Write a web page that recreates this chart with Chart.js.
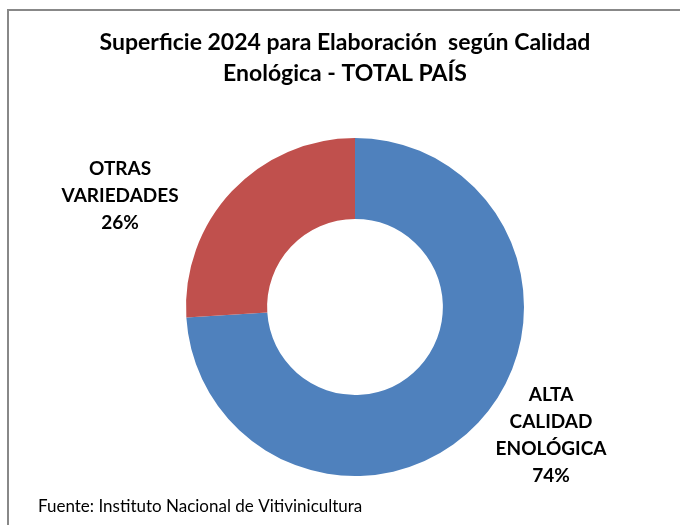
<!DOCTYPE html>
<html id="html">
<head>
<meta charset="utf-8">
<script src="https://cdn.jsdelivr.net/npm/chart.js@4.4.1/dist/chart.umd.min.js"></script>
<style>
  body { margin: 0; background: #fff; }
  #wrap { position: relative; width: 680px; height: 525px; overflow: hidden; }
  #frame { position: absolute; left: 7px; top: 9px; width: 700px; height: 540px;
           border-top: 2px solid #888; border-left: 2px solid #888; }
  canvas { position: absolute; left: 0; top: 0; }
</style>
</head>
<body>
<div id="wrap">
  <div id="frame"></div>
  <canvas id="myChart" width="680" height="525"></canvas>
</div>
<script>
const categories = [['ALTA', 'CALIDAD', 'ENOLÓGICA'], ['OTRAS', 'VARIEDADES']]
const shares = [74, 26]
const colors = ['#4F81BD', '#C0504D']
const titleLines = ['Superficie 2024 para Elaboración  según Calidad', 'Enológica - TOTAL PAÍS']
const source = 'Fuente: Instituto Nacional de Vitivinicultura'

const FONT = 'Lato, "Open Sans", sans-serif'

// label anchor for each slice, as offset from the doughnut centre (multiples of outer radius)
const labelOffsets = [[1.16, 0.76], [-1.39, -0.66]]

const textPlugin = {
  id: 'texts',
  afterDraw(chart) {
    const ctx = chart.ctx
    ctx.save()
    ctx.fillStyle = '#000'
    ctx.textAlign = 'center'
    ctx.textBaseline = 'middle'

    // title
    ctx.font = 'bold 23px ' + FONT
    titleLines.forEach((t, i) => ctx.fillText(t, 345, 43 + i * 31))

    // slice labels
    const meta = chart.getDatasetMeta(0)
    ctx.font = 'bold 19px ' + FONT
    meta.data.forEach((arc, i) => {
      const r = arc.outerRadius
      const x = arc.x + labelOffsets[i][0] * r
      const y = arc.y + labelOffsets[i][1] * r
      const lines = categories[i].concat([shares[i] + '%'])
      const top = y - (lines.length - 1) * 27 / 2
      lines.forEach((l, j) => ctx.fillText(l, x, top + j * 27))
    })

    // source
    ctx.font = '17px ' + FONT
    ctx.textAlign = 'left'
    ctx.fillText(source, 38, 507)
    ctx.restore()
  }
}

const myChart = new Chart(document.getElementById('myChart'), {
  type: 'doughnut',
  data: {
    labels: categories.map(c => c.join(' ')),
    datasets: [{
      data: shares,
      backgroundColor: colors,
      borderWidth: 0
    }]
  },
  options: {
    responsive: false,
    animation: false,
    cutout: '52%',
    layout: { padding: { left: 186, right: 156, top: 138, bottom: 49 } },
    plugins: {
      legend: { display: false },
      tooltip: { enabled: false }
    }
  },
  plugins: [textPlugin]
})
</script>
</body>
</html>
